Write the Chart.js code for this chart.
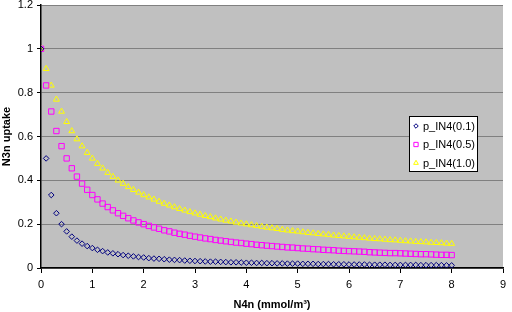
<!DOCTYPE html>
<html>
<head>
<meta charset="utf-8">
<script src="https://cdn.jsdelivr.net/npm/chart.js@4/dist/chart.umd.min.js"></script>
<style>
  html, body { margin: 0; padding: 0; background: #fff; }
  #wrap { width: 512px; height: 312px; }
</style>
</head>
<body>
<div id="wrap"><canvas id="chart" width="512" height="312"></canvas></div>
<script>
const xValues = [0, 0.1, 0.2, 0.3, 0.4, 0.5, 0.6, 0.7, 0.8, 0.9,
  1, 1.1, 1.2, 1.3, 1.4, 1.5, 1.6, 1.7, 1.8, 1.9,
  2, 2.1, 2.2, 2.3, 2.4, 2.5, 2.6, 2.7, 2.8, 2.9,
  3, 3.1, 3.2, 3.3, 3.4, 3.5, 3.6, 3.7, 3.8, 3.9,
  4, 4.1, 4.2, 4.3, 4.4, 4.5, 4.6, 4.7, 4.8, 4.9,
  5, 5.1, 5.2, 5.3, 5.4, 5.5, 5.6, 5.7, 5.8, 5.9,
  6, 6.1, 6.2, 6.3, 6.4, 6.5, 6.6, 6.7, 6.8, 6.9,
  7, 7.1, 7.2, 7.3, 7.4, 7.5, 7.6, 7.7, 7.8, 7.9, 8];

const pIN4_01 = [1, 0.5, 0.333, 0.25, 0.2, 0.167, 0.143, 0.125, 0.111, 0.1,
  0.091, 0.083, 0.077, 0.071, 0.067, 0.063, 0.059, 0.056, 0.053, 0.05,
  0.048, 0.045, 0.043, 0.042, 0.04, 0.038, 0.037, 0.036, 0.034, 0.033,
  0.032, 0.031, 0.03, 0.029, 0.029, 0.028, 0.027, 0.026, 0.026, 0.025,
  0.024, 0.024, 0.023, 0.023, 0.022, 0.022, 0.021, 0.021, 0.02, 0.02,
  0.02, 0.019, 0.019, 0.019, 0.018, 0.018, 0.018, 0.017, 0.017, 0.017,
  0.016, 0.016, 0.016, 0.016, 0.015, 0.015, 0.015, 0.015, 0.014, 0.014,
  0.014, 0.014, 0.014, 0.014, 0.013, 0.013, 0.013, 0.013, 0.013, 0.012, 0.012];

const pIN4_05 = [1, 0.833, 0.714, 0.625, 0.556, 0.5, 0.455, 0.417, 0.385, 0.357,
  0.333, 0.313, 0.294, 0.278, 0.263, 0.25, 0.238, 0.227, 0.217, 0.208,
  0.2, 0.192, 0.185, 0.179, 0.172, 0.167, 0.161, 0.156, 0.152, 0.147,
  0.143, 0.139, 0.135, 0.132, 0.128, 0.125, 0.122, 0.119, 0.116, 0.114,
  0.111, 0.109, 0.106, 0.104, 0.102, 0.1, 0.098, 0.096, 0.094, 0.093,
  0.091, 0.089, 0.088, 0.086, 0.085, 0.083, 0.082, 0.081, 0.079, 0.078,
  0.077, 0.076, 0.075, 0.074, 0.072, 0.071, 0.07, 0.069, 0.068, 0.068,
  0.067, 0.066, 0.065, 0.064, 0.063, 0.063, 0.062, 0.061, 0.06, 0.06, 0.059];

const pIN4_10 = [1, 0.909, 0.833, 0.769, 0.714, 0.667, 0.625, 0.588, 0.556, 0.526,
  0.5, 0.476, 0.455, 0.435, 0.417, 0.4, 0.385, 0.37, 0.357, 0.345,
  0.333, 0.323, 0.313, 0.303, 0.294, 0.286, 0.278, 0.27, 0.263, 0.256,
  0.25, 0.244, 0.238, 0.233, 0.227, 0.222, 0.217, 0.213, 0.208, 0.204,
  0.2, 0.196, 0.192, 0.189, 0.185, 0.182, 0.179, 0.175, 0.172, 0.169,
  0.167, 0.164, 0.161, 0.159, 0.156, 0.154, 0.152, 0.149, 0.147, 0.145,
  0.143, 0.141, 0.139, 0.137, 0.135, 0.133, 0.132, 0.13, 0.128, 0.127,
  0.125, 0.123, 0.122, 0.12, 0.119, 0.118, 0.116, 0.115, 0.114, 0.112, 0.111];

const seriesNames = ['p_IN4(0.1)', 'p_IN4(0.5)', 'p_IN4(1.0)'];
const xTickLabels = ['0', '1', '2', '3', '4', '5', '6', '7', '8', '9'];
const yTickLabels = ['0', '0.2', '0.4', '0.6', '0.8', '1', '1.2'];

const FONT = 'Liberation Sans, Arial, sans-serif';

function toPoints(ys) {
  return ys.map((y, i) => ({ x: xValues[i], y: y }));
}

// gray plot background, like the old Excel charts
const plotBackground = {
  id: 'plotBackground',
  beforeDraw(chart) {
    const { ctx, chartArea: a } = chart;
    ctx.save();
    ctx.fillStyle = '#c0c0c0';
    ctx.fillRect(a.left, a.top, a.right - a.left, a.bottom - a.top);
    ctx.restore();
  }
};

// boxed legend sitting inside the plot
const boxLegend = {
  id: 'boxLegend',
  afterDraw(chart) {
    const ctx = chart.ctx;
    const bx = 409, by = 116, bw = 68, bh = 55;
    ctx.save();
    ctx.fillStyle = '#fff';
    ctx.fillRect(bx, by, bw, bh);
    ctx.strokeStyle = '#000';
    ctx.lineWidth = 1;
    ctx.strokeRect(bx + 0.5, by + 0.5, bw, bh);
    ctx.font = '11px ' + FONT;
    ctx.textBaseline = 'middle';
    chart.data.datasets.forEach((ds, i) => {
      const y = by + 10 + i * 18.5;
      ctx.strokeStyle = ds.borderColor;
      ctx.fillStyle = 'rgba(0,0,0,0)';
      ctx.lineWidth = 1;
      Chart.helpers.drawPoint(ctx, { pointStyle: ds.pointStyle, radius: ds.pointRadius * 0.8, rotation: 0, borderWidth: 1 }, bx + 7, y);
      ctx.fillStyle = '#000';
      ctx.fillText(ds.label, bx + 14, y + 0.5);
    });
    ctx.restore();
  }
};

new Chart(document.getElementById('chart'), {
  type: 'scatter',
  data: {
    datasets: [
      { label: seriesNames[0], data: toPoints(pIN4_01), pointStyle: 'rectRot', pointRadius: 2.8,
        borderColor: '#000080', backgroundColor: 'transparent', borderWidth: 1 },
      { label: seriesNames[1], data: toPoints(pIN4_05), pointStyle: 'rect', pointRadius: 3.8,
        borderColor: '#ff00ff', backgroundColor: 'transparent', borderWidth: 1 },
      { label: seriesNames[2], data: toPoints(pIN4_10), pointStyle: 'triangle', pointRadius: 3.4,
        borderColor: '#ffff00', backgroundColor: 'transparent', borderWidth: 1 }
    ]
  },
  options: {
    responsive: false,
    animation: false,
    layout: { padding: { left: 0, right: 9, top: 5, bottom: 0 } },
    plugins: {
      legend: { display: false },
      tooltip: { enabled: false }
    },
    scales: {
      x: {
        type: 'linear', min: 0, max: 9,
        afterFit(scale) { scale.height = 44; },
        ticks: {
          stepSize: 1, color: '#000', padding: 5,
          font: { family: FONT, size: 11 },
          callback: (v) => xTickLabels[v]
        },
        grid: { drawOnChartArea: false, tickLength: 5, tickColor: '#000' },
        border: { color: '#000', width: 1.5 },
        title: {
          display: true, text: 'N4n (mmol/m³)', color: '#000',
          font: { family: FONT, size: 11, weight: 'bold' }, padding: { top: 10, bottom: 0 }
        }
      },
      y: {
        type: 'linear', min: 0, max: 1.2,
        afterFit(scale) { scale.width = 41; scale.paddingTop = 0; },
        ticks: {
          stepSize: 0.2, color: '#000', padding: 4,
          font: { family: FONT, size: 11 },
          callback: (v) => yTickLabels[Math.round(v / 0.2)]
        },
        grid: { color: '#808080', lineWidth: 1, tickLength: 4, tickColor: '#000' },
        border: { color: '#000', width: 1.5 },
        title: {
          display: true, text: 'N3n uptake', color: '#000',
          font: { family: FONT, size: 11, weight: 'bold' }, padding: { top: 0, bottom: 2 }
        }
      }
    }
  },
  plugins: [plotBackground, boxLegend]
});
</script>
</body>
</html>
